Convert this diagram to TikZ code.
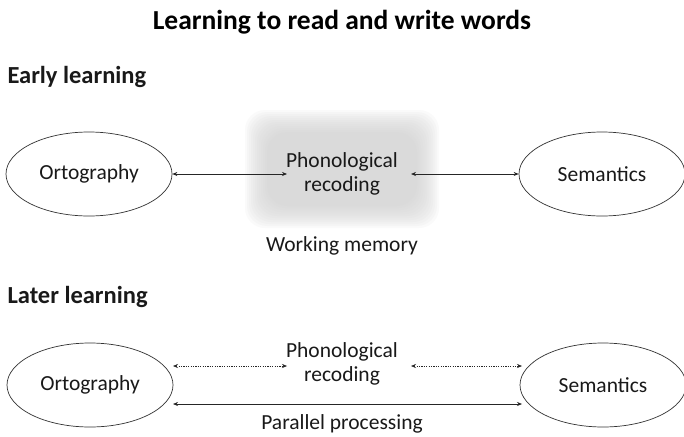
\documentclass[tikz,border=0pt]{standalone}
\usepackage{fontspec}
\setmainfont{Carlito}
\usetikzlibrary{arrows.meta,shapes.geometric}
\begin{document}
\begin{tikzpicture}[x=1pt,y=-1pt,
  every node/.style={font=\fontsize{21.5}{25}\selectfont, text=black!90},
  concept/.style={draw=black!80, line width=0.7pt, ellipse, minimum width=166pt, minimum height=84pt},
  heading/.style={font=\fontsize{24.5}{28}\selectfont\bfseries, anchor=west},
  link/.style={line width=0.7pt, draw=black!85, {Stealth[length=5pt,width=4pt]}-{Stealth[length=5pt,width=4pt]}},
  weaklink/.style={link, dash pattern=on 1.2pt off 1.2pt, line width=0.6pt},
  label/.style={align=center, font=\fontsize{21.5}{24}\selectfont}]
\useasboundingbox[fill=white] (0,0) rectangle (684,436);

% title and section headings
\node[font=\fontsize{27.5}{31}\selectfont\bfseries, text=black] (title) at (342,22) {Learning to read and write words};
\node[heading] (early) at (4,77) {Early learning};
\node[heading] (later) at (4,297) {Later learning};

% soft grey working-memory area
\foreach \i in {0,...,11}{
  \fill[black!18, opacity=0.1, rounded corners=20pt]
    (245+2*\i,110+2*\i) rectangle (439-2*\i,228-2*\i);
}

% early learning
\node[concept] (orth1) at (89,174) {Ortography};
\node[concept] (sem1) at (602,174) {Semantics};
\node[label] (phon1) at (342,174) {Phonological\\recoding};
\node (wm) at (342,246) {Working memory};
\coordinate (p1l) at (287,174);
\coordinate (p1r) at (411,174);
\draw[link] (orth1.east) -- (p1l);
\draw[link] (p1r) -- (sem1.west);

% later learning
\node[concept] (orth2) at (90,385) {Ortography};
\node[concept] (sem2) at (603,385) {Semantics};
\node[label] (phon2) at (342,364) {Phonological\\recoding};
\node (par) at (342,424) {Parallel processing};
\coordinate (o2a) at (173,366);
\coordinate (s2a) at (522,366);
\coordinate (p2l) at (287,366);
\coordinate (p2r) at (411,366);
\coordinate (o2b) at (173,404);
\coordinate (s2b) at (522,404);
\draw[weaklink] (o2a) -- (p2l);
\draw[weaklink] (p2r) -- (s2a);
\draw[link] (o2b) -- (s2b);
\end{tikzpicture}
\end{document}
